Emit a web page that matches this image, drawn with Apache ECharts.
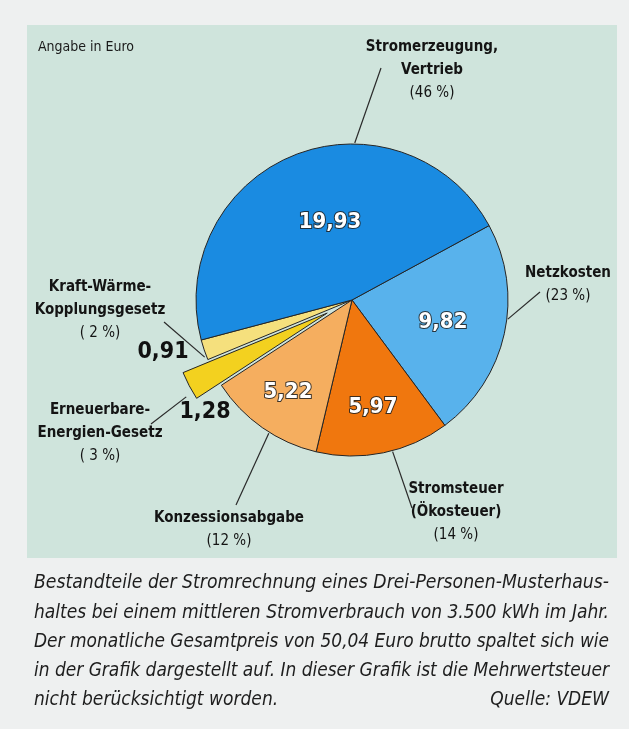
<!DOCTYPE html>
<html><head><meta charset="utf-8">
<script src="https://cdn.jsdelivr.net/npm/echarts@6/dist/echarts.min.js"></script>
<style>html,body{margin:0;padding:0;background:#eef0f0}#c{width:629px;height:729px}</style>
</head><body><div id="c"></div>
<script>
// ---- data ----
const categories = ['Netzkosten', 'Stromsteuer (Ökosteuer)', 'Konzessionsabgabe', 'Erneuerbare-Energien-Gesetz', 'Kraft-Wärme-Kopplungsgesetz', 'Stromerzeugung, Vertrieb'];
const values = [9.82, 5.97, 5.22, 1.28, 0.91, 19.93];
const percents = [23, 14, 12, 3, 2, 46];
const nameLines = [['Netzkosten'], ['Stromsteuer', '(Ökosteuer)'], ['Konzessionsabgabe'], ['Erneuerbare-', 'Energien-Gesetz'], ['Kraft-Wärme-', 'Kopplungsgesetz'], ['Stromerzeugung,', 'Vertrieb']];
const explodedIndex = 3;
const unitNote = 'Angabe in Euro';
const captionLines = [
  'Bestandteile der Stromrechnung eines Drei-Personen-Musterhaus-',
  'haltes bei einem mittleren Stromverbrauch von 3.500 kWh im Jahr.',
  'Der monatliche Gesamtpreis von 50,04 Euro brutto spaltet sich wie',
  'in der Grafik dargestellt auf. In dieser Grafik ist die Mehrwertsteuer',
  'nicht berücksichtigt worden.'
];
const sourceNote = 'Quelle: VDEW';

// ---- layout / style ----
const F = '"Liberation Sans Narrow", "DejaVu Sans Condensed", "Roboto Condensed", sans-serif';
const CX = 352, CY = 300, R = 156, START = 28.5, EXPLODE = 28;
const colors = ['#58b2ec', '#f0770e', '#f5ae5f', '#f3d11f', '#f5e07d', '#1a8be1'];
const valuePos = [[443, 322], [373, 407], [288, 392], [205, 412], [163, 352], [330, 222]];
const darkValue = [false, false, false, true, true, false];
const namePos = [[568, 285], [456, 512], [229, 530], [100, 433], [100, 310], [432, 70]];
const leaderStart = [[-7, 157], [-75, 157], [-122, 157], [-149.7, 192], [-158.8, 158], [89, 157]];
const leaderEnd = [[540, 292], [412, 508], [236, 505], [151, 424], [164, 322], [381, 68]];

function fmt(v) { return v.toFixed(2).replace('.', ','); }
function pct(p) { return '(' + (p < 10 ? ' ' : '') + p + ' %)'; }
function polar(a, r) { const t = a * Math.PI / 180; return [CX + r * Math.cos(t), CY - r * Math.sin(t)]; }

// mid angle of the exploded slice, from the data
const total = values.reduce((a, b) => a + b, 0);
const before = values.slice(0, explodedIndex).reduce((a, b) => a + b, 0);
const midAngle = START - (before + values[explodedIndex] / 2) / total * 360;
const exC = polar(midAngle, EXPLODE);

const chart = echarts.init(document.getElementById('c'), null, { renderer: 'canvas' });

// caption justification
const CAPFONT_SIZE = 20;
const capFont = 'italic ' + CAPFONT_SIZE + 'px ' + F;
const mctx = document.createElement('canvas').getContext('2d');
mctx.font = capFont;
const capLeft = 34, capRight = 609, capTop = 583, capStep = 29.3;
const graphics = [
  { type: 'rect', z: 0, shape: { x: 27, y: 25, width: 590, height: 533 }, style: { fill: '#cfe4dc' } },
  { type: 'text', z: 5, x: 38, y: 47, style: { text: unitNote, font: '14px ' + F, fill: '#1a1a1a', textVerticalAlign: 'middle' } }
];
const scales = captionLines.slice(0, 4).map(t => (capRight - capLeft) / mctx.measureText(t).width);
const avgScale = scales.reduce((a, b) => a + b, 0) / scales.length;
captionLines.forEach((t, i) => {
  const s = i < 4 ? scales[i] : avgScale;
  graphics.push({ type: 'text', z: 5, x: capLeft, y: capTop + i * capStep, scaleX: s,
    style: { text: t, font: capFont, fill: '#1e1e1e', textVerticalAlign: 'middle' } });
});
graphics.push({ type: 'text', z: 5, x: capRight, y: capTop + 4 * capStep, scaleX: avgScale,
  style: { text: sourceNote, font: capFont, fill: '#1e1e1e', textAlign: 'right', textVerticalAlign: 'middle' } });

const hidden = { color: 'rgba(0,0,0,0)', borderWidth: 0 };
const border = { borderColor: '#252525', borderWidth: 1 };

chart.setOption({
  backgroundColor: '#eef0f0',
  animation: false,
  graphic: { elements: graphics },
  series: [
    { // exploded slice, drawn from the same data with its centre pushed out along its mid angle
      type: 'pie', z: 1, silent: true, center: exC, radius: [0, R], startAngle: START, clockwise: true,
      avoidLabelOverlap: false, emphasis: { disabled: true },
      label: { show: false }, labelLine: { show: false },
      data: values.map((v, i) => ({ name: categories[i], value: v,
        itemStyle: i === explodedIndex ? Object.assign({ color: colors[i] }, border) : hidden }))
    },
    { // main pie with value labels
      type: 'pie', z: 2, center: [CX, CY], radius: [0, R], startAngle: START, clockwise: true,
      avoidLabelOverlap: false, emphasis: { disabled: true },
      label: {
        show: true, position: 'inside', formatter: p => fmt(p.value),
        fontFamily: F, fontSize: 22, fontWeight: 'bold', color: '#fff',
        textBorderColor: 'rgba(30,30,30,0.85)', textBorderWidth: 2
      },
      labelLine: { show: false },
      labelLayout: p => ({ x: valuePos[p.dataIndex][0], y: valuePos[p.dataIndex][1], align: 'center', verticalAlign: 'middle' }),
      data: values.map((v, i) => ({ name: categories[i], value: v,
        itemStyle: i === explodedIndex ? hidden : Object.assign({ color: colors[i] }, border),
        label: darkValue[i] ? { color: '#111', textBorderWidth: 0, fontSize: 23 } : {}
      }))
    },
    { // category labels with leader lines
      type: 'pie', z: 3, silent: true, center: [CX, CY], radius: [0, R], startAngle: START, clockwise: true,
      avoidLabelOverlap: false, emphasis: { disabled: true },
      itemStyle: hidden,
      label: {
        show: true, position: 'outside', fontFamily: F, color: '#141414', lineHeight: 23,
        formatter: p => nameLines[p.dataIndex].map(s => '{b|' + s + '}').join('\n') + '\n{p|' + pct(percents[p.dataIndex]) + '}',
        rich: {
          b: { fontFamily: F, fontSize: 15, fontWeight: 'bold', color: '#141414', lineHeight: 23, align: 'center' },
          p: { fontFamily: F, fontSize: 15, color: '#141414', lineHeight: 23, align: 'center' }
        }
      },
      labelLine: { show: true, lineStyle: { color: '#2a2a2a', width: 1.2 } },
      labelLayout: p => {
        const i = p.dataIndex;
        const s = polar(leaderStart[i][0], leaderStart[i][1]);
        const e = leaderEnd[i];
        return { x: namePos[i][0], y: namePos[i][1], align: 'center', verticalAlign: 'middle', labelLinePoints: [s, e, e] };
      },
      data: values.map((v, i) => ({ name: categories[i], value: v }))
    }
  ]
});
</script></body></html>
